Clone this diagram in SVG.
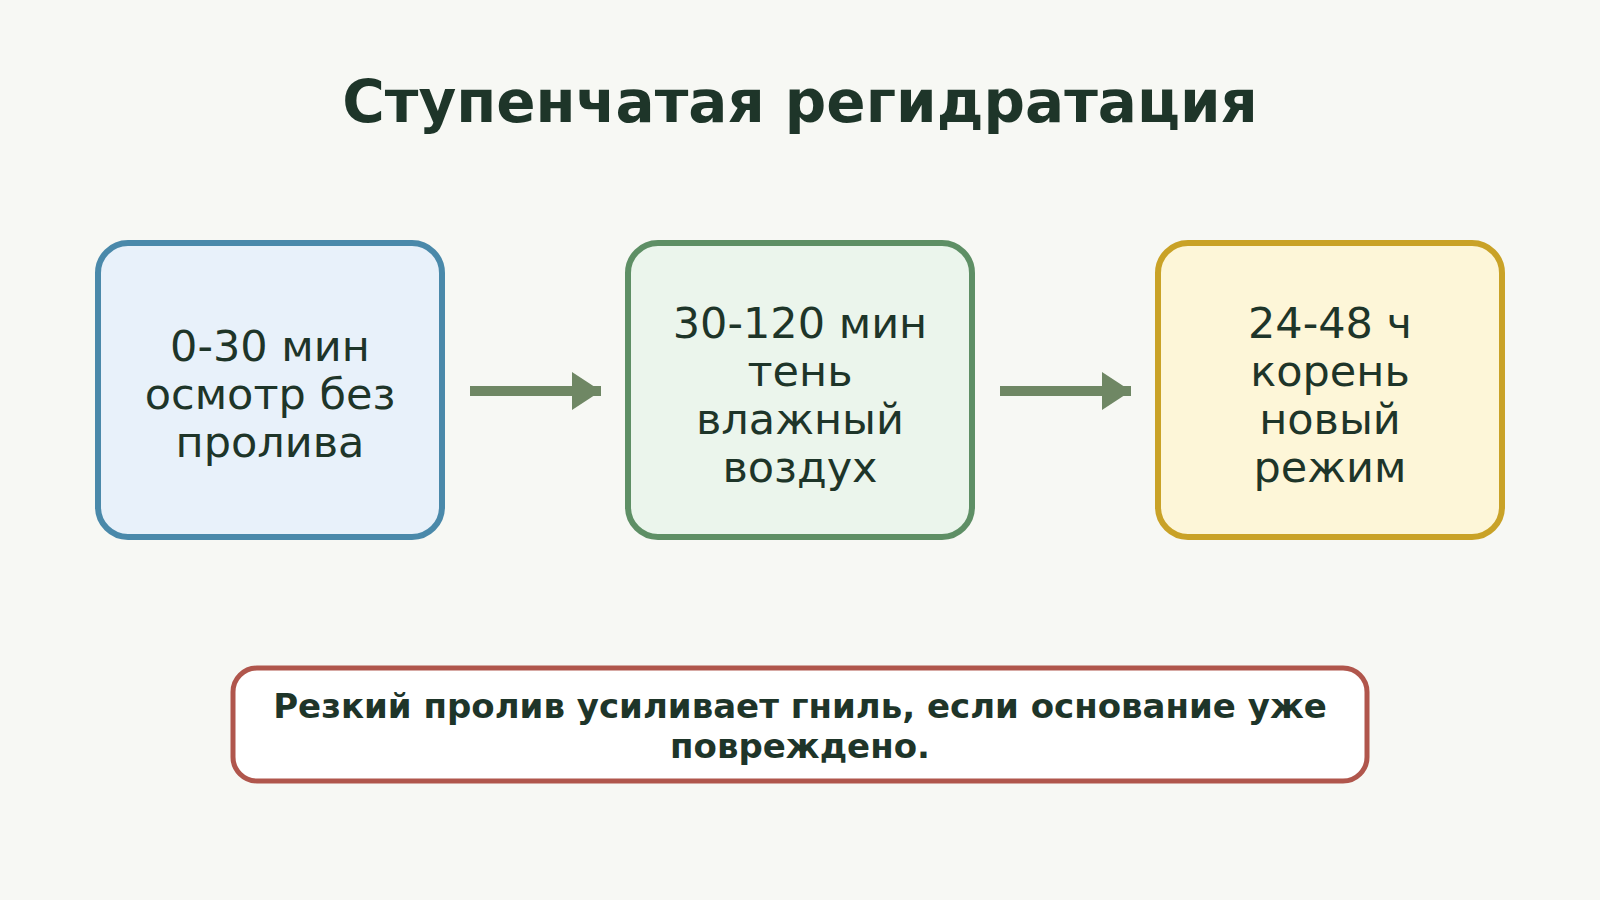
<svg xmlns="http://www.w3.org/2000/svg" width="1600" height="900" viewBox="0 0 1600 900">
<defs>
<style>
.title{font-family:"DejaVu Sans",sans-serif;font-weight:bold;font-size:58px;fill:#1e3529;text-anchor:middle}
.lbl{font-family:"DejaVu Sans",sans-serif;font-size:43px;fill:#1e3529;text-anchor:middle}
.note{font-family:"DejaVu Sans",sans-serif;font-weight:bold;font-size:34px;fill:#1e3529;text-anchor:middle}
.box{stroke-width:6}
.conn{stroke:#6f8764;stroke-width:10;fill:none}
</style>
<marker id="ah" markerUnits="userSpaceOnUse" markerWidth="30" markerHeight="38" refX="29" refY="19" orient="auto">
<path d="M0,0 L29,19 L0,38 Z" fill="#6f8764"/>
</marker>
</defs>
<rect width="1600" height="900" fill="#f7f8f4"/>
<text class="title" x="800" y="122">Ступенчатая регидратация</text>
<g id="node1">
<rect class="box" x="98" y="243" width="344" height="294" rx="30" fill="#e8f1fa" stroke="#4a89aa"/>
<text class="lbl" x="270" y="361">0-30 мин</text>
<text class="lbl" x="270" y="409">осмотр без</text>
<text class="lbl" x="270" y="457">пролива</text>
</g>
<g id="node2">
<rect class="box" x="628" y="243" width="344" height="294" rx="30" fill="#ebf5ec" stroke="#5e8f65"/>
<text class="lbl" x="800" y="338">30-120 мин</text>
<text class="lbl" x="800" y="386">тень</text>
<text class="lbl" x="800" y="434">влажный</text>
<text class="lbl" x="800" y="482">воздух</text>
</g>
<g id="node3">
<rect class="box" x="1158" y="243" width="344" height="294" rx="30" fill="#fdf6d8" stroke="#c9a227"/>
<text class="lbl" x="1330" y="338">24-48 ч</text>
<text class="lbl" x="1330" y="386">корень</text>
<text class="lbl" x="1330" y="434">новый</text>
<text class="lbl" x="1330" y="482">режим</text>
</g>
<g id="connectors">
<line class="conn" x1="470" y1="391" x2="601" y2="391" marker-end="url(#ah)"/>
<line class="conn" x1="1000" y1="391" x2="1131" y2="391" marker-end="url(#ah)"/>
</g>
<g id="note">
<rect x="233" y="668" width="1134" height="113" rx="24" fill="#ffffff" stroke="#b0564c" stroke-width="5"/>
<text class="note" x="800" y="718">Резкий пролив усиливает гниль, если основание уже</text>
<text class="note" x="800" y="758">повреждено.</text>
</g>
</svg>
